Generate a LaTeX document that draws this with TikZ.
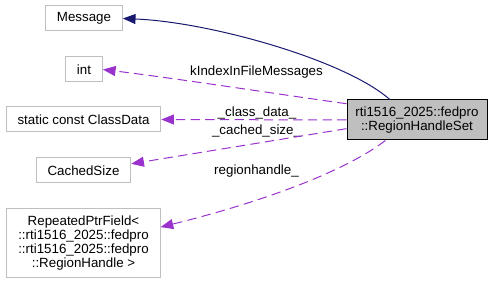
\documentclass[tikz,border=0pt]{standalone}
\usepackage{fontspec}
\setmainfont{Liberation Sans}
\usepackage{tikz}
\usetikzlibrary{arrows.meta, positioning}
\definecolor{boxgray}{RGB}{191,191,191}
\definecolor{inhcol}{RGB}{25,25,112}
\definecolor{memcol}{RGB}{154,50,205}

\begin{document}
\begin{tikzpicture}[
  x=0.75pt, y=-0.75pt,
  every node/.style={font=\fontsize{10pt}{10.5pt}\selectfont},
  cls/.style ={rectangle, draw=boxgray, line width=0.75pt, fill=white,
               inner xsep=8.5pt, inner ysep=2pt,
               minimum height=18.75pt, align=center},
  cur/.style ={rectangle, draw=black, line width=0.75pt, fill=boxgray,
               minimum width=105pt, minimum height=30pt, align=center},
  lbl/.style ={anchor=base, inner sep=0pt},
  inh/.style ={-{Triangle[length=9.5pt, width=7.5pt]}, line width=0.75pt,
               color=inhcol},
  mem/.style ={-{Triangle[length=9.5pt, width=7.5pt]}, line width=0.75pt,
               color=memcol, dash pattern=on 7pt off 4pt},
]
\useasboundingbox (0,0) rectangle (493,284);

%% clases
\node[cls] (msg)    at (84,18.5)   {Message};
\node[cls] (int)    at (84,69.5)   {int};
\node[cls] (cdata)  at (83.5,119.5) {static const ClassData};
\node[cls] (csize)  at (83.5,170.5) {CachedSize};
\node[cls, minimum width=110.25pt, minimum height=51.75pt]
           (rpf)    at (83.5,243.5)
           {RepeatedPtrField\textless\\::rti1516\_2025::fedpro\\::rti1516\_2025::fedpro\\::RegionHandle \textgreater};
\node[cur] (rhs)    at (417,120)
           {rti1516\_2025::fedpro\\::RegionHandleSet};

%% etiquetas
\node[lbl] (lint)   at (256.5,75.5) {kIndexInFileMessages};
\node[lbl] (lcdata) at (257,116.5)  {\_class\_data\_};
\node[lbl] (lcsize) at (256.5,135)  {\_cached\_size\_};
\node[lbl] (lrpf)   at (256.5,175)  {regionhandle\_};

%% aristas
\draw[inh] (rhs.143) .. controls (345,60) and (210,22) .. (msg.east);
\draw[mem] (rhs.167) .. controls (270,93) and (180,79) .. (int.east);
\draw[mem] (rhs.west) -- (cdata.east);
\draw[mem] (rhs.187) -- (csize.8);
\draw[mem] (rhs.213) .. controls (340,175) and (250,205) .. (rpf.12);

\end{tikzpicture}
\end{document}
